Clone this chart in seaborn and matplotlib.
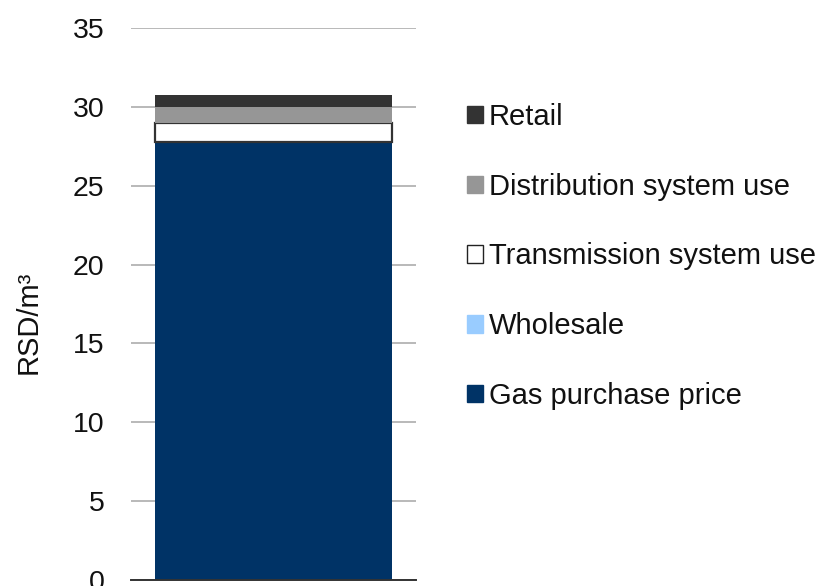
import matplotlib
matplotlib.use("Agg")
import matplotlib.pyplot as plt
from matplotlib.patches import Patch
import seaborn as sns
import pandas as pd

# Price components of one cubic metre of gas (RSD/m³), bottom to top
components = ["Gas purchase price", "Wholesale", "Transmission system use",
              "Distribution system use", "Retail"]
values = [27.7, 0.05, 1.25, 1.0, 0.75]
colors = ["#003366", "#99CCFF", "#FFFFFF", "#969696", "#333333"]
edges = ["none", "none", "#333333", "none", "none"]
yticks = [0, 5, 10, 15, 20, 25, 30, 35]

sns.set_theme(style="white")
plt.rcParams["font.family"] = ["Liberation Sans", "DejaVu Sans"]

fig = plt.figure(figsize=(8.24, 5.86), dpi=100)
ax = fig.add_axes([131 / 824, 1 - 580 / 586, 285 / 824, 552 / 586])

bottom = 0.0
for name, val, col, ec in zip(components, values, colors, edges):
    df = pd.DataFrame({"cat": [""], "val": [val]})
    sns.barplot(data=df, x="cat", y="val", ax=ax, color=col, width=0.83,
                bottom=bottom, edgecolor=ec, linewidth=1.6 if ec != "none" else 0,
                saturation=1, zorder=3)
    bottom += val

ax.set_ylim(0, 35)
ax.set_xlim(-0.5, 0.5)
ax.set_yticks(yticks)
ax.set_yticklabels([str(t) for t in yticks], fontsize=20.5, color="#111111")
ax.tick_params(axis="y", length=0, pad=19)
ax.tick_params(axis="x", length=0, labelbottom=False)
ax.set_xlabel("")
ax.yaxis.grid(True, color="#A6A6A6", linewidth=1.1, zorder=0)
ax.set_axisbelow(True)
for s in ["left", "right", "top"]:
    ax.spines[s].set_visible(False)
ax.spines["bottom"].set_color("#333333")
ax.spines["bottom"].set_linewidth(1.4)
ax.spines["bottom"].set_zorder(5)

ax.set_ylabel("RSD/m³", fontsize=21, color="#111111")
ax.yaxis.set_label_coords(-0.31, 0.467)

handles = [Patch(facecolor=c, edgecolor=("#222222" if e != "none" else c), linewidth=1.0)
           for c, e in zip(colors, edges)]
leg = fig.legend(handles[::-1], components[::-1], loc="upper left",
                 bbox_to_anchor=(467 / 824, 1 - 103 / 586), frameon=False,
                 fontsize=21, handlelength=0.55, handleheight=0.55,
                 handletextpad=0.2, labelspacing=1.43, borderpad=0, borderaxespad=0)
for t in leg.get_texts():
    t.set_color("#111111")

fig.savefig("out.png", dpi=100)
